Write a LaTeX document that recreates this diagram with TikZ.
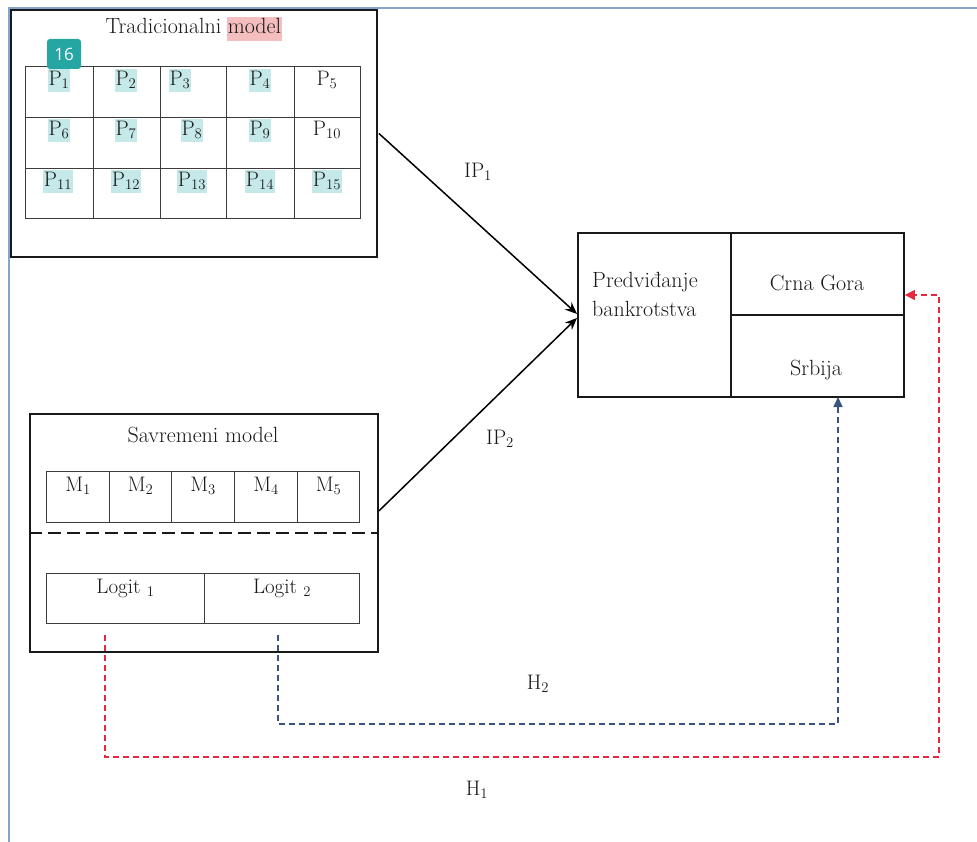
\documentclass[tikz,border=0pt]{standalone}
\usepackage{fontspec}
\newfontfamily\badgefont{Open Sans}
\usetikzlibrary{arrows.meta,calc}
\definecolor{hlteal}{RGB}{197,233,233}
\definecolor{hlpink}{RGB}{245,190,190}
\definecolor{badgec}{RGB}{38,166,163}
\definecolor{redc}{RGB}{228,40,62}
\definecolor{bluec}{RGB}{58,84,128}
\definecolor{framec}{RGB}{130,165,200}
\definecolor{inkc}{RGB}{25,25,25}
\begin{document}
\begin{tikzpicture}[x=1pt,y=-1pt,
  outerbox/.style={draw=inkc, line width=1.9pt, inner sep=0pt, anchor=north west},
  cellbox/.style={draw=inkc!85, line width=1.1pt, inner sep=0pt, anchor=north west},
  txt/.style={font=\fontsize{22}{26}\selectfont, text=inkc, inner sep=0pt},
  plbl/.style={font=\fontsize{21}{24}\selectfont, text=inkc, inner xsep=0.5pt, inner ysep=0pt, text height=16pt, text depth=7pt},
  hl/.style={fill=hlteal},
  ioarrow/.style={draw=black, line width=1.5pt, -{Stealth[length=12pt,width=10pt]}},
  hdash/.style={line width=1.6pt, dash pattern=on 6pt off 4pt},
]
\useasboundingbox (0,0) rectangle (977,842);
\fill[white] (0,0) rectangle (977,842);
% page frame
\draw[framec, line width=2pt] (9,842) -- (9,8) -- (977,8);

% ---------- Tradicionalni model ----------
\node[outerbox, minimum width=366pt, minimum height=247pt] (trad) at (10,9) {};
\node[txt, fill=hlpink, inner sep=1pt, text height=16pt, text depth=6pt] (tradm) at (254.5,29) {model};
\node[txt, anchor=base east] (tradt) at ($(tradm.base west)+(-5,0)$) {Tradicionalni};

\foreach \r/\ya/\yb in {1/66/117, 2/117/168, 3/168/218}{
  \foreach \c/\xa/\xb in {1/25/93, 2/93/160, 3/160/226, 4/226/294, 5/294/360}{
    \node[cellbox, minimum width=\xb pt-\xa pt, minimum height=\yb pt-\ya pt] (t\r\c) at (\xa,\ya) {};
  }
}
\node[plbl,hl] (p1) at (59,81) {P\textsubscript{1}};
\node[plbl,hl] (p2) at (126,81) {P\textsubscript{2}};
\node[plbl,hl] (p3) at (180,81) {P\textsubscript{3}};
\node[plbl,hl] (p4) at (260,81) {P\textsubscript{4}};
\node[plbl] (p5) at (327,81) {P\textsubscript{5}};
\node[plbl,hl] (p6) at (59,131) {P\textsubscript{6}};
\node[plbl,hl] (p7) at (126,131) {P\textsubscript{7}};
\node[plbl,hl] (p8) at (192,131) {P\textsubscript{8}};
\node[plbl,hl] (p9) at (260,131) {P\textsubscript{9}};
\node[plbl] (p10) at (327,131) {P\textsubscript{10}};
\node[plbl,hl] (p11) at (58,182) {P\textsubscript{11}};
\node[plbl,hl] (p12) at (126,182) {P\textsubscript{12}};
\node[plbl,hl] (p13) at (192,182) {P\textsubscript{13}};
\node[plbl,hl] (p14) at (260,182) {P\textsubscript{14}};
\node[plbl,hl] (p15) at (327,182) {P\textsubscript{15}};
% badge
\node[fill=badgec, rounded corners=3pt, minimum width=34pt, minimum height=30pt, inner sep=0pt,
      text=white, font=\badgefont\fontsize{17}{20}\selectfont] (badge) at (64,54) {16};

% ---------- Savremeni model ----------
\node[outerbox, minimum width=348pt, minimum height=238pt] (sav) at (29,413) {};
\node[txt] (savt) at (203,435) {Savremeni model};
\foreach \c/\xa/\xb in {1/46/109, 2/109/171, 3/171/234, 4/234/297, 5/297/359}{
  \node[cellbox, minimum width=\xb pt-\xa pt, minimum height=51pt] (m\c) at (\xa,471) {};
  \node[plbl] (ml\c) at ($(m\c.north)+(0,16)$) {M\textsubscript{\c}};
}
\draw[inkc, line width=2pt, dash pattern=on 13pt off 6pt] (sav.west |- 0,533) -- (sav.east |- 0,533);
\node[cellbox, minimum width=158pt, minimum height=50pt] (lg1) at (46,573) {};
\node[cellbox, minimum width=155pt, minimum height=50pt] (lg2) at (204,573) {};
\node[plbl] (lgl1) at ($(lg1.north)+(0,16)$) {Logit \textsubscript{1}};
\node[plbl] (lgl2) at ($(lg2.north)+(0,16)$) {Logit \textsubscript{2}};

% ---------- Predviđanje bankrotstva ----------
\node[outerbox, minimum width=153pt, minimum height=164pt] (pred) at (577,232) {};
\node[outerbox, minimum width=173pt, minimum height=82pt] (crna) at (730,232) {};
\node[outerbox, minimum width=173pt, minimum height=82pt] (srb) at (730,314) {};
\node[txt, anchor=north west, align=left, font=\fontsize{22}{29}\selectfont] (predt) at (592,272) {Predviđanje\\bankrotstva};
\node[txt] (crnat) at (817,283) {Crna Gora};
\node[txt] (srbt) at (816,370) {Srbija};

% ---------- IP arrows ----------
\draw[ioarrow] ($(trad.east)+(1,0)$) -- ($(pred.west)+(0,-1)$);
\draw[ioarrow] ($(sav.east)+(0,-22)$) -- ($(pred.west)+(0,3)$);
\node[plbl] (ip1) at (478,173) {IP\textsubscript{1}};
\node[plbl] (ip2) at (500,440) {IP\textsubscript{2}};

% ---------- H connectors ----------
\coordinate (h1s) at (105,635);
\coordinate (h1c) at (939,757);
\coordinate (h1e) at (crna.east |- 0,295);
\draw[redc, hdash, -{Triangle[length=10pt,width=10pt]}] (h1s) |- (h1c) |- (h1e);
\coordinate (h2s) at (278,635);
\coordinate (h2c) at (838,724);
\coordinate (h2e) at (838,397);
\draw[bluec, hdash, -{Triangle[length=10pt,width=9pt]}] (h2s) |- (h2c) -- (h2e);
\node[plbl] (h2) at (538,685) {H\textsubscript{2}};
\node[plbl] (h1) at (477,791) {H\textsubscript{1}};
\end{tikzpicture}
\end{document}
